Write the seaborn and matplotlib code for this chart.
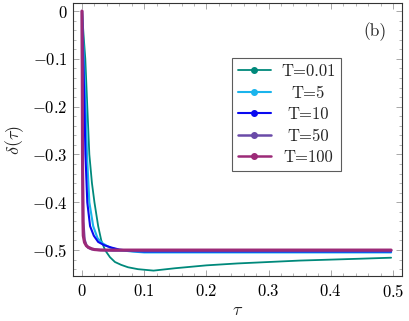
import numpy as np
import pandas as pd
import matplotlib
matplotlib.use("Agg")
import matplotlib.pyplot as plt
from matplotlib.lines import Line2D
from matplotlib.ticker import MultipleLocator, FuncFormatter
import seaborn as sns

labels = ["T=0.01", "T=5", "T=10", "T=50", "T=100"]
colors = ["#00897b", "#1ab4ec", "#0a0af0", "#6a4aa8", "#9c2a78"]
widths = [1.3, 1.5, 1.5, 1.8, 2.2]

x_001 = [0.0, 0.0025, 0.0053, 0.0085, 0.0118, 0.016, 0.020, 0.026, 0.031, 0.037, 0.045, 0.053, 0.063, 0.074, 0.09, 0.115, 0.15, 0.2, 0.25, 0.3, 0.35, 0.4, 0.45, 0.497]
y_001 = [0.0, -0.05, -0.10, -0.20, -0.30, -0.36, -0.40, -0.45, -0.48, -0.50, -0.515, -0.525, -0.531, -0.536, -0.54, -0.543, -0.538, -0.532, -0.528, -0.525, -0.522, -0.520, -0.518, -0.516]

x_5 = [0.0, 0.003, 0.006, 0.008, 0.0118, 0.018, 0.025, 0.032, 0.045, 0.06, 0.08, 0.1, 0.15, 0.2, 0.3, 0.4, 0.497]
y_5 = [0.0, -0.10, -0.20, -0.30, -0.40, -0.45, -0.475, -0.485, -0.495, -0.500, -0.503, -0.505, -0.505, -0.505, -0.505, -0.505, -0.505]

x_10 = [0.0, 0.002, 0.004, 0.0055, 0.0085, 0.013, 0.019, 0.026, 0.036, 0.048, 0.06, 0.08, 0.1, 0.15, 0.2, 0.3, 0.4, 0.497]
y_10 = [0.0, -0.10, -0.20, -0.30, -0.40, -0.45, -0.47, -0.483, -0.490, -0.495, -0.499, -0.502, -0.503, -0.503, -0.503, -0.503, -0.503, -0.503]

x_50 = [0.0, 0.001, 0.002, 0.004, 0.007, 0.010, 0.015, 0.02, 0.03, 0.05, 0.1, 0.2, 0.3, 0.4, 0.497]
y_50 = [0.0, -0.3, -0.44, -0.478, -0.490, -0.495, -0.498, -0.499, -0.500, -0.501, -0.501, -0.501, -0.501, -0.501, -0.501]

x_100 = [0.0, 0.0008, 0.0015, 0.002, 0.004, 0.007, 0.010, 0.015, 0.02, 0.03, 0.05, 0.1, 0.2, 0.3, 0.4, 0.497]
y_100 = [0.0, -0.3, -0.44, -0.47, -0.484, -0.491, -0.494, -0.497, -0.499, -0.500, -0.500, -0.500, -0.500, -0.500, -0.500, -0.500]

xs = [x_001, x_5, x_10, x_50, x_100]
ys = [y_001, y_5, y_10, y_50, y_100]

sns.set_theme(style="white")
plt.rcParams.update({
    "font.family": ["cmr10", "DejaVu Serif"],
    "mathtext.fontset": "cm",
    "axes.formatter.use_mathtext": True,
    "font.size": 12,
    "axes.unicode_minus": True,
})

fig = plt.figure(figsize=(4.10, 3.21), dpi=100)
ax = fig.add_axes([0.178, 0.140, 0.8025, 0.8505])

for lab, col, lw, xv, yv in zip(labels, colors, widths, xs, ys):
    df = pd.DataFrame({"tau": xv, "delta": yv})
    sns.lineplot(data=df, x="tau", y="delta", ax=ax, color=col, linewidth=lw,
                 legend=False, estimator=None, sort=False)

def fmt(v, pos):
    if abs(v) < 1e-9:
        return r"$0$"
    return r"$%s$" % ("%.1f" % v)

ax.set_xlim(-0.0145, 0.5145)
ax.set_ylim(-0.5544, 0.0167)
ax.xaxis.set_major_locator(MultipleLocator(0.1))
ax.xaxis.set_minor_locator(MultipleLocator(0.02))
ax.yaxis.set_major_locator(MultipleLocator(0.1))
ax.yaxis.set_minor_locator(MultipleLocator(0.02))
ax.xaxis.set_major_formatter(FuncFormatter(fmt))
ax.yaxis.set_major_formatter(FuncFormatter(fmt))
ax.tick_params(which="both", direction="in", top=True, right=True, bottom=True, left=True,
               color="#9a9a9a", labelsize=12, labelcolor="black")
ax.tick_params(which="major", length=4, width=0.6)
ax.tick_params(which="minor", length=2.5, width=0.5)
ax.tick_params(axis="x", pad=5)
ax.tick_params(axis="y", pad=4)
for s in ax.spines.values():
    s.set_color("#333333")
    s.set_linewidth(0.8)

ax.set_xlabel(r"$\tau$", fontsize=13, labelpad=2)
ax.set_ylabel(r"$\delta(\tau)$", fontsize=13, labelpad=4)

ax.text(0.918, 0.897, "(b)", transform=ax.transAxes, fontsize=12.5, ha="center", va="center")

handles = [Line2D([0], [0], color=c, lw=lw if lw < 2 else 1.8, marker="o", markersize=4,
                  markerfacecolor=c, markeredgecolor=c) for c, lw in zip(colors, widths)]
leg = ax.legend(handles, labels, loc="upper left", bbox_to_anchor=(0.483, 0.799),
                borderaxespad=0, frameon=True, fancybox=False, edgecolor="#333333",
                fontsize=12, handlelength=2.0, handletextpad=0.6, labelspacing=0.37,
                borderpad=0.35)
leg.get_frame().set_linewidth(0.8)

# center legend labels within their column
fig.canvas.draw()
renderer = fig.canvas.get_renderer()
texts = leg.get_texts()
tw = [t.get_window_extent(renderer).width for t in texts]
wmax = max(tw)
for t, w in zip(texts, tw):
    t.set_x((wmax - w) / 2.0)

fig.savefig("out.png", dpi=100)
